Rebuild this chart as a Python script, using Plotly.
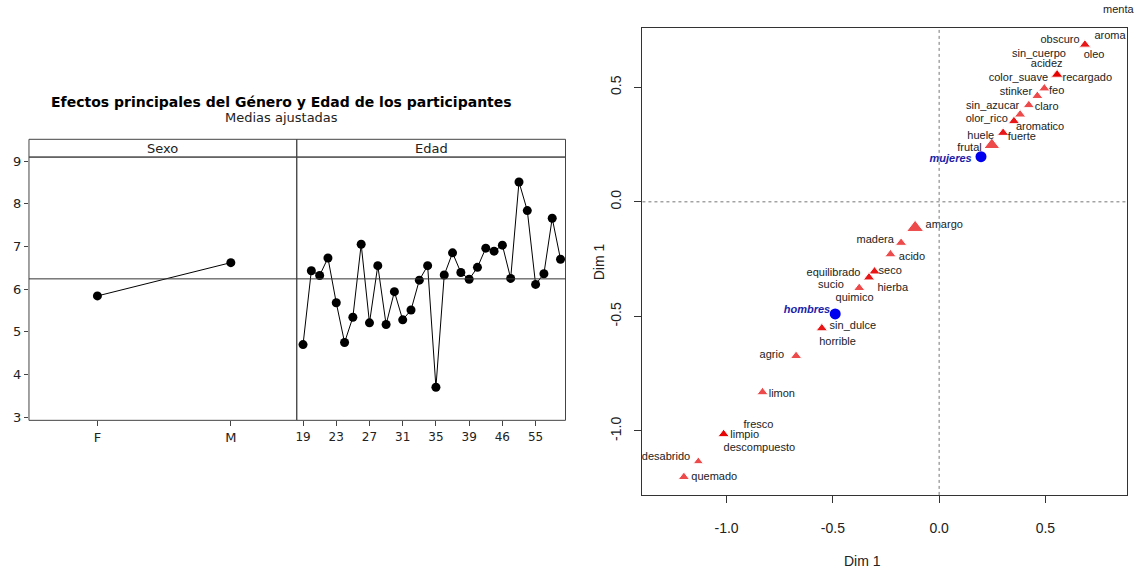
import plotly.graph_objects as go

# ---------------- Left chart data ----------------
title_left = "Efectos principales del Género y Edad de los participantes"
subtitle_left = "Medias ajustadas"
sexo_cats = ["F", "M"]
sexo_means = [5.84, 6.62]
edad_cats = [str(a) for a in range(19, 40)] + ["40", "42", "44", "46", "48", "50", "52", "55", "56", "58", "60"]
edad_means = [4.70, 6.43, 6.32, 6.73, 5.68, 4.75, 5.34, 7.05, 5.21, 6.55, 5.17,
              5.94, 5.28, 5.51, 6.21, 6.55, 3.70, 6.33, 6.85, 6.39, 6.23, 6.51,
              6.96, 6.89, 7.03, 6.25, 8.51, 7.84, 6.11, 6.36, 7.66, 6.70]
edad_ticks = ["19", "23", "27", "31", "35", "39", "46", "55"]
grand_mean = 6.24
y_ticks_left = [3, 4, 5, 6, 7, 8, 9]

# ---------------- Right chart data ----------------
terms = ["menta", "aroma", "obscuro", "oleo", "sin_cuerpo", "acidez", "color_suave", "recargado",
         "stinker", "feo", "sin_azucar", "claro", "olor_rico", "aromatico", "huele", "fuerte", "frutal",
         "amargo", "madera", "acido", "equilibrado", "seco", "sucio", "hierba", "quimico", "sin_dulce",
         "horrible", "agrio", "limon", "fresco", "limpio", "descompuesto", "desabrido", "quemado"]
term_dim1 = [0.85, 0.80, 0.686, 0.686, 0.555, 0.555, 0.555, 0.555,
             0.462, 0.495, 0.381, 0.422, 0.352, 0.352, 0.301, 0.301, 0.248,
             -0.113, -0.179, -0.229, -0.304, -0.304, -0.330, -0.330, -0.376, -0.552,
             -0.552, -0.673, -0.831, -1.014, -1.014, -1.014, -1.133, -1.201]
term_size = [10, 10, 10, 10, 10, 10, 12, 10,
             10, 10, 10, 10, 10, 10, 10, 10, 14,
             15, 10, 10, 10, 10, 10, 10, 10, 10,
             10, 10, 10, 10, 10, 10, 9, 10]
label_x = [0.846, 0.804, 0.569, 0.729, 0.470, 0.506, 0.373, 0.697,
           0.361, 0.553, 0.252, 0.506, 0.224, 0.475, 0.196, 0.389, 0.143,
           0.024, -0.301, -0.128, -0.497, -0.230, -0.509, -0.218, -0.398, -0.406,
           -0.478, -0.787, -0.740, -0.850, -0.915, -0.846, -1.285, -1.058]
label_y = [0.842, 0.724, 0.703, 0.639, 0.642, 0.602, 0.539, 0.539,
           0.477, 0.483, 0.415, 0.411, 0.360, 0.325, 0.286, 0.281, 0.235,
           -0.102, -0.167, -0.243, -0.310, -0.303, -0.364, -0.379, -0.420, -0.541,
           -0.615, -0.670, -0.838, -0.974, -1.017, -1.075, -1.116, -1.203]
groups = ["mujeres", "hombres"]
group_dim1 = [0.197, -0.489]
group_label_x = [0.054, -0.622]
group_label_y = [0.184, -0.472]
xy_ticks = [-1.0, -0.5, 0.0, 0.5]

W, H = 1141, 572
def fx(p): return p / W
def fy(p): return 1 - p / H

LFONT = "DejaVu Sans"
RFONT = "Liberation Sans"

# right panel axes geometry
X3_DOM = [fx(642), fx(1127)]
Y3_DOM = [fy(498), fy(25)]
X3_RANGE = [-1.396, 0.884]
Y3_RANGE = [-1.279, 0.760]

def in_range(v, r):
    return r[0] <= v <= r[1]

fig = go.Figure()

# Left: Sexo
fig.add_trace(go.Scatter(x=sexo_cats, y=sexo_means, mode="lines+markers",
                         line=dict(color="black", width=1),
                         marker=dict(color="black", size=9),
                         xaxis="x", yaxis="y", showlegend=False))
# Left: Edad
fig.add_trace(go.Scatter(x=edad_cats, y=edad_means, mode="lines+markers",
                         line=dict(color="black", width=1),
                         marker=dict(color="black", size=9),
                         xaxis="x2", yaxis="y", showlegend=False))

# Right: terms
fig.add_trace(go.Scatter(x=term_dim1, y=term_dim1, mode="markers",
                         marker=dict(symbol="triangle-up", color="#e60000", size=term_size),
                         xaxis="x3", yaxis="y3", showlegend=False, cliponaxis=True))
inside = [i for i in range(len(terms)) if in_range(label_x[i], X3_RANGE) and in_range(label_y[i], Y3_RANGE)]
outside = [i for i in range(len(terms)) if i not in inside]
fig.add_trace(go.Scatter(x=[label_x[i] for i in inside], y=[label_y[i] for i in inside], mode="text",
                         text=[terms[i] for i in inside],
                         textfont=dict(family=RFONT, size=11, color="#222222"),
                         textposition="middle center",
                         xaxis="x3", yaxis="y3", showlegend=False, cliponaxis=False))
fig.add_trace(go.Scatter(x=group_dim1, y=group_dim1, mode="markers",
                         marker=dict(symbol="circle", color="#0000ee", size=11),
                         xaxis="x3", yaxis="y3", showlegend=False))
fig.add_trace(go.Scatter(x=group_label_x, y=group_label_y, mode="text",
                         text=["<b><i>%s</i></b>" % g for g in groups],
                         textfont=dict(family=RFONT, size=11, color="#1c1ca8"),
                         textposition="middle center",
                         xaxis="x3", yaxis="y3", showlegend=False, cliponaxis=False))

left_tick_font = dict(family=LFONT, size=13, color="#222222")
right_tick_font = dict(family=RFONT, size=14, color="#222222")

fig.update_layout(
    width=W, height=H, margin=dict(l=0, r=0, t=0, b=0),
    paper_bgcolor="white", plot_bgcolor="white",
    xaxis=dict(domain=[fx(28), fx(296)], type="category", categoryarray=sexo_cats,
               range=[-0.513, 1.494], showgrid=False, zeroline=False, showline=False,
               ticks="outside", ticklen=5, tickcolor="#444", tickfont=left_tick_font,
               anchor="y"),
    xaxis2=dict(domain=[fx(296), fx(565)], type="category", categoryarray=edad_cats,
                range=[-0.758, 31.6], showgrid=False, zeroline=False, showline=False,
                tickmode="array", tickvals=edad_ticks, ticktext=edad_ticks,
                ticks="outside", ticklen=5, tickcolor="#444", tickfont=dict(family=LFONT, size=12, color="#222222"),
                anchor="y"),
    yaxis=dict(domain=[fy(422.5), fy(156)], range=[2.926, 9.093], showgrid=False,
               zeroline=False, showline=False, tickmode="array", tickvals=y_ticks_left,
               ticks="outside", ticklen=4, tickcolor="#444", tickfont=left_tick_font,
               anchor="x"),
    xaxis3=dict(domain=X3_DOM, range=X3_RANGE, showgrid=False,
                zeroline=False, showline=True, mirror=True, linecolor="#333", linewidth=1,
                tickmode="array", tickvals=xy_ticks, ticktext=["%.1f" % v for v in xy_ticks],
                ticks="outside", ticklen=7, tickcolor="#333", tickfont=right_tick_font,
                ticklabelstandoff=13, anchor="y3"),
    yaxis3=dict(domain=Y3_DOM, range=Y3_RANGE, showgrid=False,
                zeroline=False, showline=True, mirror=True, linecolor="#333", linewidth=1,
                tickmode="array", tickvals=xy_ticks, ticktext=["%.1f" % v for v in xy_ticks],
                ticks="outside", ticklen=7, tickcolor="#333", tickfont=right_tick_font,
                tickangle=-90, ticklabelstandoff=8, anchor="x3"),
)

shapes = []
strip_top = 1 + 18 / 266.5
for xr in ["x domain", "x2 domain"]:
    shapes.append(dict(type="rect", xref=xr, yref="y domain", x0=0, x1=1, y0=0, y1=1,
                       line=dict(color="#444", width=1)))
    shapes.append(dict(type="rect", xref=xr, yref="y domain", x0=0, x1=1, y0=1, y1=strip_top,
                       line=dict(color="#444", width=1)))
    shapes.append(dict(type="line", xref=xr, yref="y", x0=0, x1=1, y0=grand_mean, y1=grand_mean,
                       line=dict(color="#333", width=1)))
shapes.append(dict(type="line", xref="x3", yref="y3 domain", x0=0, x1=0, y0=0, y1=1,
                   line=dict(color="#777", width=1, dash="dot")))
shapes.append(dict(type="line", xref="x3 domain", yref="y3", x0=0, x1=1, y0=0, y1=0,
                   line=dict(color="#777", width=1, dash="dot")))
fig.update_layout(shapes=shapes)

annotations = [
    dict(text="<b>" + title_left + "</b>", xref="paper", yref="paper", x=fx(281), y=fy(100),
         showarrow=False, font=dict(family=LFONT, size=14, color="black"), xanchor="center", yanchor="middle"),
    dict(text=subtitle_left, xref="paper", yref="paper", x=fx(281), y=fy(116),
         showarrow=False, font=dict(family=LFONT, size=13, color="#222"), xanchor="center", yanchor="middle"),
    dict(text="Sexo", xref="x domain", yref="y domain", x=0.5, y=(1 + strip_top) / 2,
         showarrow=False, font=dict(family=LFONT, size=13, color="#222"), xanchor="center", yanchor="middle"),
    dict(text="Edad", xref="x2 domain", yref="y domain", x=0.5, y=(1 + strip_top) / 2,
         showarrow=False, font=dict(family=LFONT, size=13, color="#222"), xanchor="center", yanchor="middle"),
    dict(text="Dim 1", xref="paper", yref="paper", x=fx(862), y=fy(565),
         showarrow=False, font=dict(family=RFONT, size=14, color="#222"), xanchor="center", yanchor="middle"),
    dict(text="Dim 1", xref="paper", yref="paper", x=fx(598), y=fy(262), textangle=-90,
         showarrow=False, font=dict(family=RFONT, size=14, color="#222"), xanchor="center", yanchor="middle"),
]
# labels lying outside the panel's range (drawn in the margin, as in the original)
for i in outside:
    px_frac = X3_DOM[0] + (label_x[i] - X3_RANGE[0]) / (X3_RANGE[1] - X3_RANGE[0]) * (X3_DOM[1] - X3_DOM[0])
    py_frac = Y3_DOM[0] + (label_y[i] - Y3_RANGE[0]) / (Y3_RANGE[1] - Y3_RANGE[0]) * (Y3_DOM[1] - Y3_DOM[0])
    annotations.append(dict(text=terms[i], xref="paper", yref="paper", x=px_frac, y=py_frac,
                            showarrow=False, font=dict(family=RFONT, size=11, color="#222222"),
                            xanchor="center", yanchor="middle"))
fig.update_layout(annotations=annotations)

fig.write_html("out.html", config={"displayModeBar": False},
               post_script="document.body.style.margin='0px';document.body.style.overflow='hidden';")
